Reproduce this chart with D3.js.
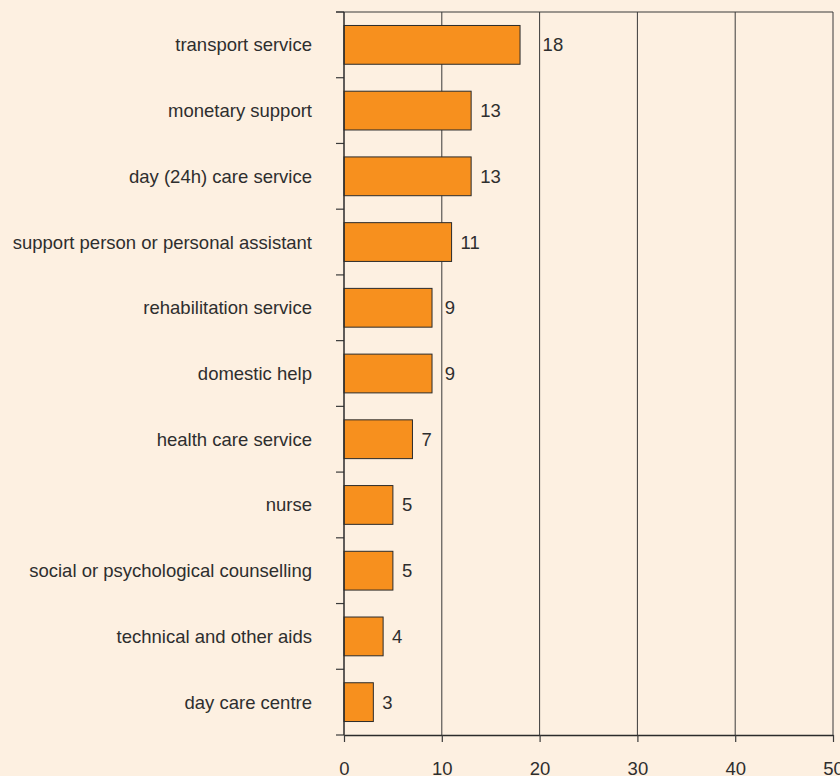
<!DOCTYPE html>
<html>
<head>
<meta charset="utf-8">
<script src="https://cdn.jsdelivr.net/npm/d3@7"></script>
<style>
  body { margin: 0; background: #fdf0e1; }
  svg { display: block; }
  text { font-family: "Liberation Sans", Arial, sans-serif; fill: #2e2e2e; }
</style>
</head>
<body>
<div id="chart"></div>
<script>
// chart data, top to bottom
var categories = ["transport service", "monetary support", "day (24h) care service",
    "support person or personal assistant", "rehabilitation service", "domestic help",
    "health care service", "nurse", "social or psychological counselling",
    "technical and other aids", "day care centre"];
var values = [18, 13, 13, 11, 9, 9, 7, 5, 5, 4, 3];
var xTicks = [0, 10, 20, 30, 40, 50];

var fontSize = 18.5;

var margin = {top: 12, right: 7, bottom: 41, left: 344},
    width = 840 - margin.left - margin.right,
    height = 776 - margin.top - margin.bottom;

var svg = d3.select("#chart")
    .append("svg")
    .attr("width", 840)
    .attr("height", 776)
    .append("g")
    .attr("transform", "translate(" + margin.left + "," + margin.top + ")");

var x = d3.scaleLinear()
    .domain([0, 50])
    .range([0, width]);

var y = d3.scaleBand()
    .domain(categories)
    .range([0, height])
    .paddingInner(0.41)
    .paddingOuter(0.205);

// gridlines
svg.selectAll(".grid")
    .data(xTicks.slice(1))
    .enter()
    .append("line")
    .attr("x1", function (d) { return x(d); })
    .attr("x2", function (d) { return x(d); })
    .attr("y1", 0)
    .attr("y2", height)
    .attr("stroke", "#3a3a3a")
    .attr("stroke-width", 1);

// top frame line
svg.append("line")
    .attr("x1", -8).attr("x2", width)
    .attr("y1", 0).attr("y2", 0)
    .attr("stroke", "#3a3a3a")
    .attr("stroke-width", 1.2);

// bars
svg.selectAll("rect")
    .data(values)
    .enter()
    .append("rect")
    .attr("x", x(0))
    .attr("y", function (d, i) { return y(categories[i]); })
    .attr("width", function (d) { return x(d) - x(0); })
    .attr("height", y.bandwidth())
    .attr("fill", "#f7901e")
    .attr("stroke", "#2b2b2b")
    .attr("stroke-width", 1);

// value labels, pushed past a gridline when they would touch it
svg.selectAll(".val")
    .data(values)
    .enter()
    .append("text")
    .attr("class", "val")
    .attr("x", function (d) {
        var pos = x(d) + 9;
        var w = String(d).length * fontSize * 0.556;
        xTicks.forEach(function (t) {
            if (t > 0 && x(t) >= pos - 2 && x(t) <= pos + w + 2) pos = x(t) + 3;
        });
        return pos;
    })
    .attr("y", function (d, i) { return y(categories[i]) + y.bandwidth() / 2; })
    .attr("dy", "0.35em")
    .style("font-size", fontSize + "px")
    .text(function (d) { return d; });

// y axis: ticks at band boundaries
var bounds = d3.range(categories.length + 1).map(function (i) { return i * height / categories.length; });
svg.selectAll(".ytick")
    .data(bounds)
    .enter()
    .append("line")
    .attr("x1", -8).attr("x2", 0)
    .attr("y1", function (d) { return d; })
    .attr("y2", function (d) { return d; })
    .attr("stroke", "#3a3a3a")
    .attr("stroke-width", 1.2);

svg.append("line")
    .attr("x1", 0).attr("x2", 0)
    .attr("y1", 0).attr("y2", height)
    .attr("stroke", "#2b2b2b")
    .attr("stroke-width", 1.5);

svg.selectAll(".ylab")
    .data(categories)
    .enter()
    .append("text")
    .attr("class", "ylab")
    .attr("x", -32)
    .attr("y", function (d) { return y(d) + y.bandwidth() / 2; })
    .attr("dy", "0.35em")
    .style("text-anchor", "end")
    .style("font-size", fontSize + "px")
    .text(function (d) { return d; });

// x axis
var xAxis = svg.append("g")
    .attr("transform", "translate(0," + height + ")")
    .call(d3.axisBottom(x).tickValues(xTicks).tickSize(7).tickSizeOuter(0).tickPadding(20));

xAxis.select(".domain").attr("stroke", "#2b2b2b").attr("stroke-width", 1.5);
xAxis.selectAll(".tick line").attr("stroke", "#3a3a3a").attr("stroke-width", 1.2);
xAxis.selectAll(".tick text")
    .style("font-size", fontSize + "px")
    .style("font-family", "'Liberation Sans', Arial, sans-serif")
    .attr("fill", "#2e2e2e");
</script>
</body>
</html>
